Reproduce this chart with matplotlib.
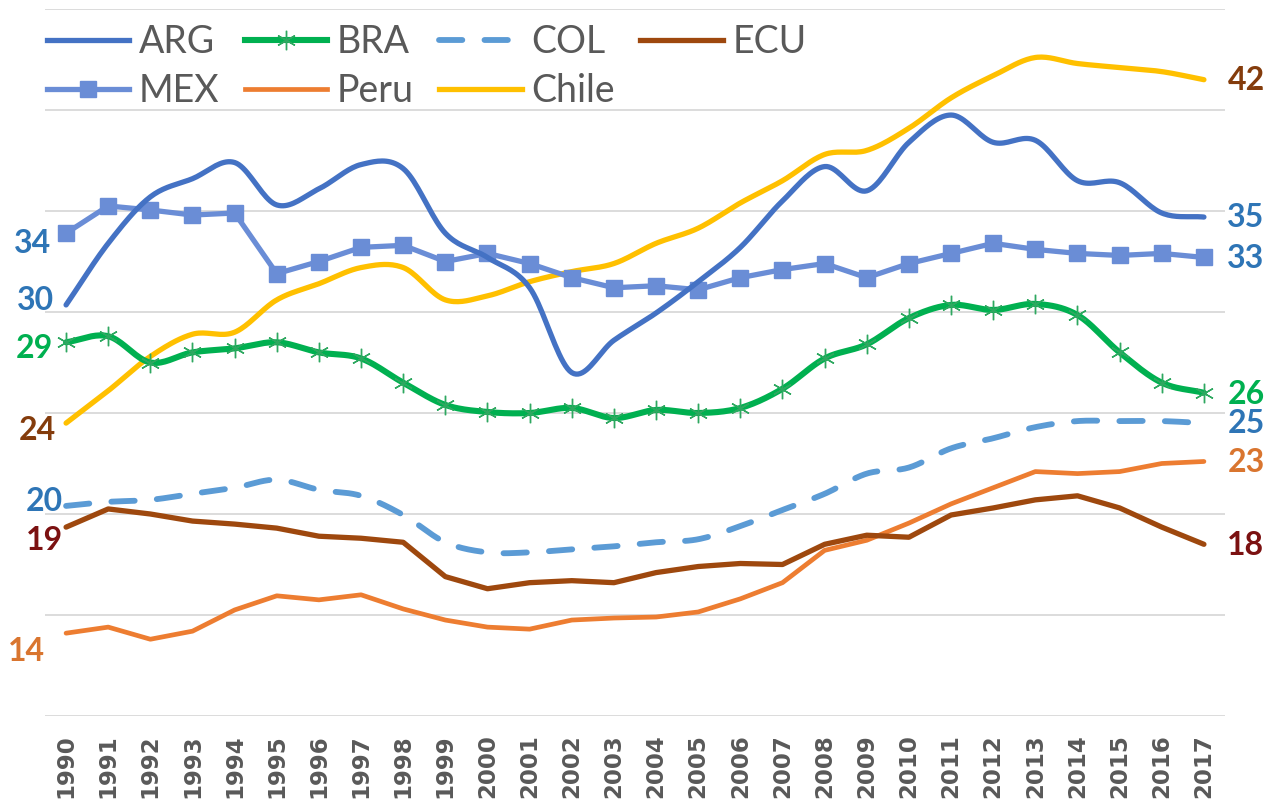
import numpy as np
import matplotlib
matplotlib.use("Agg")
import matplotlib.pyplot as plt
from matplotlib.lines import Line2D

years = list(range(1990, 2018))

arg = [30.35, 33.4, 35.7, 36.6, 37.4, 35.3, 36.1, 37.3, 37.1, 33.9,
       32.7, 31.2, 27.0, 28.6, 29.95, 31.5, 33.2, 35.5, 37.2, 36.0,
       38.4, 39.75, 38.4, 38.5, 36.5, 36.4, 34.9, 34.7]
bra = [28.5, 28.8, 27.5, 28.0, 28.2, 28.5, 28.0, 27.7, 26.5, 25.4,
       25.05, 25.0, 25.25, 24.75, 25.15, 25.0, 25.25, 26.2, 27.7, 28.4,
       29.7, 30.35, 30.1, 30.4, 29.85, 28.0, 26.5, 26.0]
col = [20.4, 20.6, 20.7, 21.0, 21.3, 21.7, 21.2, 20.9, 19.95, 18.6,
       18.1, 18.1, 18.25, 18.4, 18.6, 18.75, 19.4, 20.2, 21.0, 22.0,
       22.3, 23.25, 23.75, 24.3, 24.6, 24.6, 24.6, 24.5]
ecu = [19.35, 20.25, 20.0, 19.65, 19.5, 19.3, 18.9, 18.8, 18.6, 16.9,
       16.3, 16.6, 16.7, 16.6, 17.1, 17.4, 17.55, 17.5, 18.5, 18.95,
       18.85, 19.95, 20.3, 20.7, 20.9, 20.3, 19.35, 18.5]
mex = [33.9, 35.25, 35.05, 34.8, 34.9, 31.9, 32.5, 33.2, 33.3, 32.5,
       32.9, 32.4, 31.7, 31.2, 31.3, 31.1, 31.7, 32.1, 32.4, 31.7,
       32.4, 32.9, 33.4, 33.1, 32.9, 32.8, 32.9, 32.7]
peru = [14.1, 14.4, 13.8, 14.2, 15.25, 15.95, 15.75, 16.0, 15.3, 14.75,
        14.4, 14.3, 14.75, 14.85, 14.9, 15.15, 15.8, 16.6, 18.2, 18.7,
        19.55, 20.5, 21.3, 22.1, 22.0, 22.1, 22.5, 22.6]
chile = [24.5, 26.1, 27.8, 28.9, 29.0, 30.6, 31.4, 32.2, 32.2, 30.6,
         30.8, 31.5, 32.0, 32.4, 33.4, 34.15, 35.4, 36.5, 37.8, 38.0,
         39.1, 40.6, 41.7, 42.6, 42.3, 42.1, 41.9, 41.5]

series_names = ["ARG", "BRA", "COL", "ECU", "MEX", "Peru", "Chile"]
left_labels = {"MEX": "34", "ARG": "30", "BRA": "29", "Chile": "24",
               "COL": "20", "ECU": "19", "Peru": "14"}
right_labels = {"Chile": "42", "ARG": "35", "MEX": "33", "BRA": "26",
                "COL": "25", "Peru": "23", "ECU": "18"}


def smooth(x, y, n=20):
    x = np.asarray(x, float)
    y = np.asarray(y, float)
    px = np.concatenate([[2 * x[0] - x[1]], x, [2 * x[-1] - x[-2]]])
    py = np.concatenate([[2 * y[0] - y[1]], y, [2 * y[-1] - y[-2]]])
    xs, ys = [], []
    t = np.linspace(0, 1, n, endpoint=False)
    for i in range(1, len(px) - 2):
        for P, out in ((px, xs), (py, ys)):
            p0, p1, p2, p3 = P[i - 1], P[i], P[i + 1], P[i + 2]
            out.extend(0.5 * ((2 * p1) + (-p0 + p2) * t
                              + (2 * p0 - 5 * p1 + 4 * p2 - p3) * t ** 2
                              + (-p0 + 3 * p1 - 3 * p2 + p3) * t ** 3))
    xs.append(x[-1]); ys.append(y[-1])
    return np.array(xs), np.array(ys)


fig = plt.figure(figsize=(12.78, 8.08), dpi=100)
ax = fig.add_axes([45 / 1278, 92 / 808, 1180 / 1278, 707 / 808])
ax.set_xlim(1989.5, 2017.5)
ax.set_ylim(10, 45)
for s in ax.spines.values():
    s.set_visible(False)
ax.set_yticks(np.arange(10, 46, 5))
ax.yaxis.grid(True, color="#D9D9D9", linewidth=1.3)
ax.set_axisbelow(True)
ax.tick_params(axis="y", left=False, labelleft=False)
ax.set_xticks(years)
ax.set_xticklabels([str(y) for y in years], rotation=90, fontsize=16.5,
                   fontweight="bold", color="#595959", family="DejaVu Sans")
ax.tick_params(axis="x", length=0, pad=13)

c_arg = "#4472C4"
c_bra = "#00B050"
c_col = "#5B9BD5"
c_ecu = "#9E480E"
c_mex = "#6A8DD6"
c_peru = "#ED7D31"
c_chile = "#FFC000"

sx, sy = smooth(years, chile)
ax.plot(sx, sy, color=c_chile, lw=3.8, solid_capstyle="round", zorder=3)
ax.plot(years, peru, color=c_peru, lw=3.4, solid_capstyle="round", zorder=3)
ax.plot(years, ecu, color=c_ecu, lw=3.8, solid_capstyle="round", zorder=3)
sx, sy = smooth(years, col)
ax.plot(sx, sy, color=c_col, lw=4.2, dashes=(4, 3.8), dash_capstyle="round",
        zorder=3)
ax.plot(years, mex, color=c_mex, lw=3.8, marker="s", ms=11, mfc=c_mex,
        mec=c_mex, zorder=4)
sx, sy = smooth(years, bra)
ax.plot(sx, sy, color=c_bra, lw=4.4, solid_capstyle="round", zorder=4)
ax.plot(years, bra, ls="none", marker=(6, 2, 0), ms=14, mec="#2EA860",
        mew=1.0, zorder=5)
sx, sy = smooth(years, arg)
ax.plot(sx, sy, color=c_arg, lw=3.8, solid_capstyle="round", zorder=4)

data = {"ARG": arg, "BRA": bra, "COL": col, "ECU": ecu, "MEX": mex,
        "Peru": peru, "Chile": chile}
lab_font = ["Lato", "Liberation Sans", "DejaVu Sans"]
left_off = {"MEX": (-34, -10), "ARG": (-31, 4), "BRA": (-32, -6),
            "Chile": (-29, -7), "COL": (-22, 4), "ECU": (-22, -13),
            "Peru": (-40, -18)}
left_col = {"MEX": "#2E75B6", "ARG": "#2E75B6", "BRA": "#00B050",
            "Chile": "#843C0C", "COL": "#2E75B6", "ECU": "#7B1111",
            "Peru": "#D9752F"}
right_off = {"Chile": (43, -1), "ARG": (42, 0), "MEX": (42, -1),
             "BRA": (42, -2), "COL": (42, 0), "Peru": (42, -1),
             "ECU": (42, -1)}
right_col = {"Chile": "#843C0C", "ARG": "#2E75B6", "MEX": "#2E75B6",
             "BRA": "#00B050", "COL": "#2E75B6", "Peru": "#D9752F",
             "ECU": "#7B1111"}
for name, txt in left_labels.items():
    ax.annotate(txt, (years[0], data[name][0]), xytext=left_off[name],
                textcoords="offset pixels", ha="center", va="center",
                fontsize=23, fontweight="bold", color=left_col[name],
                family=lab_font, annotation_clip=False)
for name, txt in right_labels.items():
    ax.annotate(txt, (years[-1], data[name][-1]), xytext=right_off[name],
                textcoords="offset pixels", ha="center", va="center",
                fontsize=23, fontweight="bold", color=right_col[name],
                family=lab_font, annotation_clip=False)

h = {
    "ARG": Line2D([], [], color=c_arg, lw=3.8),
    "BRA": Line2D([], [], color=c_bra, lw=4.4, marker=(6, 2, 0), ms=14,
                  mec="#2EA860", mew=1.0),
    "COL": Line2D([], [], color=c_col, lw=4.2, dashes=(4, 3.8),
                  dash_capstyle="round"),
    "ECU": Line2D([], [], color=c_ecu, lw=3.8),
    "MEX": Line2D([], [], color=c_mex, lw=3.8, marker="s", ms=11),
    "Peru": Line2D([], [], color=c_peru, lw=3.4),
    "Chile": Line2D([], [], color=c_chile, lw=3.8),
}
order = ["ARG", "MEX", "BRA", "Peru", "COL", "Chile", "ECU"]
leg = ax.legend([h[k] for k in order], order, ncol=4, loc="upper left",
                bbox_to_anchor=(0.0, 0.981), frameon=False,
                handlelength=2.2, handletextpad=0.25, columnspacing=0.68,
                labelspacing=0.35, borderaxespad=0.0, borderpad=0.05,
                prop={"family": lab_font, "size": 27})
for t in leg.get_texts():
    t.set_color("#595959")

fig.savefig("out.png", dpi=100)
